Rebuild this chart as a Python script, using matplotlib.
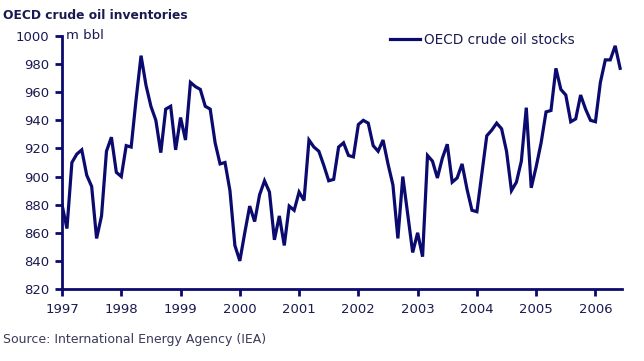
import matplotlib
matplotlib.use("Agg")
import matplotlib.pyplot as plt
import numpy as np

# monthly OECD crude oil stocks, m bbl, Jan 1997 - Jun 2006
stocks_1997 = [880, 863, 910, 916, 919, 901, 893, 856, 872, 918, 928, 903]
stocks_1998 = [900, 922, 921, 955, 986, 965, 950, 940, 917, 948, 950, 919]
stocks_1999 = [942, 926, 967, 964, 962, 950, 948, 924, 909, 910, 890, 851]
stocks_2000 = [840, 860, 879, 868, 887, 897, 889, 855, 872, 851, 879, 876]
stocks_2001 = [889, 883, 926, 921, 918, 908, 897, 898, 921, 924, 915, 914]
stocks_2002 = [937, 940, 938, 922, 918, 926, 909, 894, 856, 900, 873, 846]
stocks_2003 = [860, 843, 915, 911, 899, 913, 923, 896, 899, 909, 891, 876]
stocks_2004 = [875, 902, 929, 933, 938, 934, 918, 890, 896, 911, 949, 892]
stocks_2005 = [907, 924, 946, 947, 977, 962, 958, 939, 941, 958, 948, 940]
stocks_2006 = [939, 967, 983, 983, 993, 977]

years = [1997, 1998, 1999, 2000, 2001, 2002, 2003, 2004, 2005, 2006]
yticks = [820, 840, 860, 880, 900, 920, 940, 960, 980, 1000]

stocks = (stocks_1997 + stocks_1998 + stocks_1999 + stocks_2000 + stocks_2001
          + stocks_2002 + stocks_2003 + stocks_2004 + stocks_2005 + stocks_2006)
t = 1997 + np.arange(len(stocks)) / 12.0

navy = "#0b0b6f"
txt = "#1a1a50"

fig = plt.figure(figsize=(6.44, 3.61), dpi=100)
ax = fig.add_axes([0.0963, 0.1994, 0.8697, 0.7009])
ax.plot(t, stocks, color=navy, linewidth=2.3, solid_joinstyle="miter",
        label="OECD crude oil stocks")

ax.set_xlim(1997, 2006.45)
ax.set_ylim(820, 1000)
ax.set_xticks(years)
ax.set_yticks(yticks)
for s in ["top", "right"]:
    ax.spines[s].set_visible(False)
for s in ["left", "bottom"]:
    ax.spines[s].set_color(navy)
    ax.spines[s].set_linewidth(2)
ax.tick_params(axis="both", direction="out", length=5, width=2, color=navy,
               labelcolor=txt, labelsize=9.5)
ax.tick_params(axis="x", pad=5)
ax.tick_params(axis="y", pad=4)

ax.text(1997.07, 1000, "m bbl", color=txt, fontsize=9.5, va="center", ha="left")
ax.legend(loc="upper right", bbox_to_anchor=(0.937, 1.06), frameon=False,
          fontsize=9.8, handlelength=2.2, handletextpad=0.3, labelcolor=txt)

fig.text(0.005, 0.975, "OECD crude oil inventories", color=txt, fontsize=8.8,
         fontweight="bold", va="top", ha="left")
fig.text(0.005, 0.06, "Source: International Energy Agency (IEA)", color="#3a3a5a",
         fontsize=9, va="center", ha="left")

fig.savefig("out.png", dpi=100)
